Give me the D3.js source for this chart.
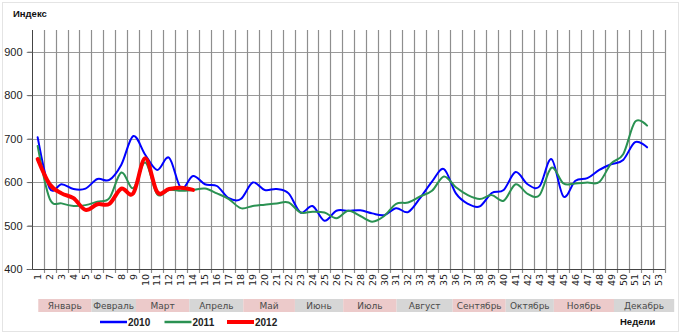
<!DOCTYPE html>
<html>
<head>
<meta charset="utf-8">
<script src="https://cdn.jsdelivr.net/npm/d3@7"></script>
<style>
  html, body { margin: 0; padding: 0; background: #fff; }
  svg { display: block; }
</style>
</head>
<body>
<svg id="chart" width="682" height="336"></svg>
<script>
// Weekly index, 2010–2012
const weeks = d3.range(1, 54);
const yTicks = [400, 500, 600, 700, 800, 900];

const series2010 = [703, 586, 595, 584, 585, 607, 605, 640, 706, 663,
                    628, 656, 586, 614, 595, 591, 563, 561, 599, 582,
                    584, 574, 530, 545, 511, 534, 534, 535, 528, 524,
                    540, 531, 563, 601, 630, 574, 550, 544, 575, 582,
                    623, 595, 590, 653, 567, 603, 609, 628, 641, 651,
                    692, 680];
const series2011 = [683, 562, 551, 545, 547, 555, 563, 622, 586, 645,
                    572, 582, 580, 582, 585, 574, 561, 540, 545, 548,
                    551, 553, 530, 532, 530, 517, 534, 522, 509, 522,
                    550, 553, 567, 580, 613, 588, 570, 561, 570, 557,
                    595, 573, 570, 633, 597, 597, 599, 600, 643, 664,
                    739, 730];
const series2012 = [653, 595, 574, 563, 536, 549, 550, 585, 574, 655,
                    577, 584, 587, 582];

const seriesNames = ["2010", "2011", "2012"];
const months = ["Январь", "Февраль", "Март", "Апрель", "Май", "Июнь",
                "Июль", "Август", "Сентябрь", "Октябрь", "Ноябрь", "Декабрь"];
// month boundaries expressed on the week axis (0 = start of week 1)
const monthEdges = [0.55, 5.0, 8.73, 13.19, 17.71, 22.03, 26.07,
                    30.54, 35.23, 39.67, 43.7, 48.73, 53.77];

const svg = d3.select("#chart");
const L = 31.7, R = 665, T = 30, B = 269;

const x = d3.scaleBand().domain(weeks).range([L, R]).padding(0);
const xw = d3.scaleLinear().domain([0, 53]).range([L, R]);
const y = d3.scaleLinear().domain([400, 950]).range([B, T]);
const cx = w => x(w) + x.bandwidth() / 2;

// outer frame
svg.append("rect")
  .attr("x", 2.5).attr("y", 2.5).attr("width", 676).attr("height", 329)
  .attr("fill", "none").attr("stroke", "#e4e4e4");

// horizontal gridlines
svg.append("g").selectAll("line")
  .data(yTicks.filter(v => v > 400))
  .join("line")
  .attr("x1", L - 5).attr("x2", R)
  .attr("y1", d => Math.round(y(d)) + 0.5).attr("y2", d => Math.round(y(d)) + 0.5)
  .attr("stroke", "#9a9a9a").attr("stroke-width", 1.2);

// vertical gridlines at week boundaries
svg.append("g").selectAll("line")
  .data(d3.range(1, 54))
  .join("line")
  .attr("x1", d => Math.round(xw(d)) + 0.5).attr("x2", d => Math.round(xw(d)) + 0.5)
  .attr("y1", T).attr("y2", B + 4)
  .attr("stroke", "#8e8e8e").attr("stroke-width", 1.2);

// axes lines
svg.append("line")
  .attr("x1", Math.round(L) + 0.5).attr("x2", Math.round(L) + 0.5)
  .attr("y1", T).attr("y2", B + 0.5)
  .attr("stroke", "#444");
svg.append("line")
  .attr("x1", L - 5).attr("x2", R)
  .attr("y1", Math.round(B) + 0.5).attr("y2", Math.round(B) + 0.5)
  .attr("stroke", "#444");

// y axis labels
const yAxis = svg.append("g")
  .attr("transform", `translate(${Math.round(L) + 0.5},0)`)
  .call(d3.axisLeft(y).tickValues(yTicks).tickSize(5).tickPadding(5).tickFormat(d3.format("d")));
yAxis.select(".domain").remove();
yAxis.selectAll(".tick line").attr("stroke", "#666");
yAxis.selectAll("text")
  .attr("font-family", "'Liberation Sans', Arial, sans-serif")
  .attr("font-size", "11px").attr("fill", "#222");

// x axis week labels, rotated
const xAxis = svg.append("g")
  .attr("transform", `translate(0,${B})`)
  .call(d3.axisBottom(x).tickSize(0));
xAxis.select(".domain").remove();
xAxis.selectAll("text")
  .attr("font-family", "'DejaVu Sans', Verdana, sans-serif")
  .attr("font-size", "9.5px").attr("fill", "#222")
  .attr("transform", "rotate(-90)")
  .attr("x", -5).attr("y", 0).attr("dy", "0.35em")
  .style("text-anchor", "end");

// month bands
const bandY = 299, bandH = 13;
const mg = svg.append("g");
mg.selectAll("rect")
  .data(months)
  .join("rect")
  .attr("x", (d, i) => xw(monthEdges[i]))
  .attr("width", (d, i) => xw(monthEdges[i + 1]) - xw(monthEdges[i]))
  .attr("y", bandY).attr("height", bandH)
  .attr("fill", (d, i) => i % 2 === 0 ? "#eccaca" : "#d6d6d6");
mg.selectAll("text")
  .data(months)
  .join("text")
  .attr("x", (d, i) => (xw(monthEdges[i]) + xw(monthEdges[i + 1])) / 2)
  .attr("y", bandY + bandH / 2 + 3.3)
  .attr("text-anchor", "middle")
  .attr("font-family", "'DejaVu Sans', Verdana, sans-serif")
  .attr("font-size", "9px").attr("fill", "#4a4a4a")
  .text(d => d);

// series lines
const line = d3.line()
  .x((d, i) => cx(weeks[i]))
  .y(d => y(d))
  .curve(d3.curveCardinal.tension(0));

const styles = [
  { data: series2010, color: "#0000ff", width: 2 },
  { data: series2011, color: "#2a9152", width: 2 },
  { data: series2012, color: "#ff0000", width: 4 }
];
svg.append("g").selectAll("path")
  .data(styles)
  .join("path")
  .attr("d", d => line(d.data))
  .attr("fill", "none")
  .attr("stroke", d => d.color)
  .attr("stroke-width", d => d.width)
  .attr("stroke-linejoin", "round")
  .attr("stroke-linecap", "round");

// legend
const legendX = [100, 164.5, 227];
const lg = svg.append("g").selectAll("g")
  .data(styles)
  .join("g")
  .attr("transform", (d, i) => `translate(${legendX[i]},322)`);
lg.append("line")
  .attr("x1", 0).attr("x2", 27).attr("y1", 0).attr("y2", 0)
  .attr("stroke", d => d.color)
  .attr("stroke-width", d => d.width === 4 ? 4 : 2.5);
lg.append("text")
  .attr("x", 28).attr("y", 3.6)
  .attr("font-family", "'Liberation Sans', Arial, sans-serif")
  .attr("font-size", "10px").attr("font-weight", "bold").attr("fill", "#222")
  .text((d, i) => seriesNames[i]);

// axis titles
svg.append("text")
  .attr("x", 13).attr("y", 17)
  .attr("font-family", "'Liberation Sans', Arial, sans-serif")
  .attr("font-size", "9.5px").attr("font-weight", "bold").attr("fill", "#111")
  .text("Индекс");
svg.append("text")
  .attr("x", 620).attr("y", 325)
  .attr("font-family", "'Liberation Sans', Arial, sans-serif")
  .attr("font-size", "9.5px").attr("font-weight", "bold").attr("fill", "#111")
  .text("Недели");
</script>
</body>
</html>
